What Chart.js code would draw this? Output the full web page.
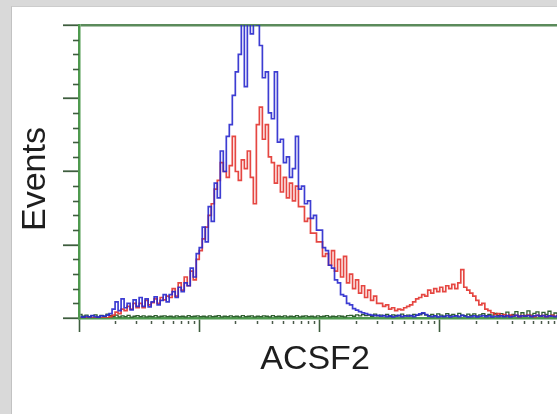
<!DOCTYPE html>
<html>
<head>
<meta charset="utf-8">
<script src="https://cdn.jsdelivr.net/npm/chart.js@4.4.1/dist/chart.umd.min.js"></script>
<style>
  html, body { margin: 0; padding: 0; width: 557px; height: 414px; overflow: hidden; background: #d9d9d9; }
  #panel { position: absolute; left: 11px; top: 6px; width: 560px; height: 420px; background: #ffffff; border-left: 1px solid #c2c2c2; border-top: 1px solid #cccccc; }
  #c { position: absolute; left: 0; top: 0; }
</style>
</head>
<body>
<div id="panel"></div>
<canvas id="c" width="575" height="414"></canvas>
<script>
// ---- data (events per channel, % of full scale) ----
const xTitle = "ACSF2";
const yTitle = "Events";
const yMajorTicks = [0, 25, 50, 75, 100];
const xDecadeTicks = [1, 10, 100, 1000, 10000];
const decadesShown = 4;

const blueCounts = [
  0.5,0.3,0.6,0.4,0.8,0.5,0.3,0.7,0.6,1.0,
  1.5,3,5.5,2.5,6.5,3.5,5,2.8,6.2,4,
  7,4,6.5,3.8,5.5,7.2,4.5,6,8,5.5,
  8,9,7,10.5,9,12,11,17,14,22,
  24,31,26,38,33,46,41,57,50,62,
  66,76,84,90,103,79,104,97,106,100,
  93,82,84,70,68,84,60,61,53,55,
  48,51,62,44,45,39,40,34,35,30,
  30,24,23,18,17,13,12,8,7.5,5,
  4.5,3.2,2.7,2.2,1.8,1.5,1.2,1.0,0.8,0.9,
  0.6,0.8,0.5,0.7,0.4,0.6,0.9,0.5,0.7,0.6,
  0.8,0.5,1.0,1.4,1.8,1.2,0.6,0.5,0.7,0.4,
  0.6,0.5,0.8,0.4,0.6,0.7,0.5,0.9,0.6,0.4,
  0.5,0.7,0.4,0.6,0.8,0.5,0.7,0.4,0.6,0.5,
  0.7,0.5,0.8,0.4,0.6,0.9,0.5,0.7,0.6,0.8,
  0.5,0.7,0.9,0.6,0.8,0.5,0.7,0.6,0.5,0.7
];
const redCounts = [
  0,0,0,0,0,0,0,0,0,0,
  0.5,1,2,1.5,3,2.5,4,3,5,3.5,
  5,3.5,6,4.5,5.2,6.5,5,7,6.2,7.5,
  7,10,7.5,12,9.5,14,11,16,13,20,
  23,27,31,35,39,44,47,53,50,48,
  52,62,50,47,54,51,57,48,39,66,
  72,61,66,55,53,46,52,43,48,41,
  46,40,45,38,38,33,34,29,29,26,
  26,21,22,18,23,16,20,14,21,12,
  15,10,13,8.5,11,7,9.5,6,7.5,5,
  5,4,4.5,3,3.5,2.5,3,2.8,3.5,4,
  4.5,5.5,6.5,7,8,7.5,9.5,8.5,10,9,
  10.5,9,11,10,11.5,10,12,16.5,10.5,9.5,
  8.5,7.5,6,4.5,5,3,2.5,1.8,1.2,1.5,
  0.8,1.2,0.6,1.0,0.7,0.9,0.5,0.8,0.6,1.0,
  0.7,0.5,0.9,0.6,0.8,0.5,0.7,0.9,0.6,0.8
];
const isoCounts = [
  1.2,0.6,1.0,0.5,0.8,1.1,0.4,0.9,0.6,1.3,
  0.8,0.5,1.0,0.4,0.7,0.5,0.9,0.3,0.6,0.8,
  0.5,0.7,0.4,0.6,0.5,0.8,0.4,0.6,0.7,0.5,
  0.6,0.4,0.7,0.5,0.6,0.4,0.8,0.5,0.6,0.7,
  0.5,0.6,0.4,0.7,0.5,0.6,0.8,0.4,0.6,0.5,
  0.7,0.5,0.6,0.4,0.8,0.5,0.6,0.7,0.4,0.6,
  0.5,0.7,0.6,0.4,0.8,0.5,0.6,0.5,0.7,0.4,
  0.6,0.5,0.8,0.4,0.6,0.7,0.5,0.6,0.4,0.7,
  0.5,0.6,0.8,0.4,0.6,0.5,0.7,0.6,0.4,0.8,
  0.9,0.6,1.1,0.7,1.2,0.8,1.0,0.6,1.3,0.7,
  1.0,0.8,1.2,0.6,1.1,0.9,0.7,1.3,0.8,1.0,
  0.7,1.2,0.9,1.1,1.6,1.0,0.8,1.2,0.7,1.4,
  1.0,0.6,1.5,0.9,1.2,0.7,1.6,1.0,0.8,1.3,
  0.9,1.4,0.7,1.1,1.5,0.8,1.2,1.0,1.6,0.9,
  1.5,0.6,2.0,0.8,1.2,2.2,0.7,1.8,0.9,2.4,
  1.0,1.6,2.1,0.8,1.9,1.2,2.3,1.0,1.7,1.4
];

// channel centres on the log axis (uniform log-spaced bins)
const binCount = blueCounts.length;
const channelValues = blueCounts.map((_, i) => Math.pow(10, (i + 0.5) * decadesShown / binCount));
const toPoints = arr => arr.map((v, i) => ({ x: channelValues[i], y: v }));

const axisGreen = '#4f9a4f';
const tickDark = '#3e5e3e';

const extras = {
  id: 'extras',
  afterDraw(chart) {
    const { ctx, chartArea } = chart;
    const xs = chart.scales.x, ys = chart.scales.y;
    ctx.save();
    // minor y ticks
    ctx.strokeStyle = tickDark; ctx.lineWidth = 1.6;
    for (let v = 5; v < 100; v += 5) {
      if (yMajorTicks.includes(v)) continue;
      const y = Math.round(ys.getPixelForValue(v)) + 0.5;
      ctx.beginPath(); ctx.moveTo(chartArea.left - 6, y); ctx.lineTo(chartArea.left, y); ctx.stroke();
    }
    // minor x ticks (log 2..9)
    ctx.strokeStyle = '#4a5a4a'; ctx.lineWidth = 1.5;
    for (let d = 0; d < decadesShown; d++) {
      for (let k = 2; k <= 9; k++) {
        const x = Math.round(xs.getPixelForValue(k * Math.pow(10, d))) + 0.5;
        ctx.beginPath(); ctx.moveTo(x, chartArea.bottom + 3); ctx.lineTo(x, chartArea.bottom + 6); ctx.stroke();
      }
    }
    // titles
    ctx.fillStyle = '#1e1e1e';
    ctx.font = '34px "Liberation Sans", Arial, sans-serif';
    ctx.textAlign = 'center'; ctx.textBaseline = 'middle';
    ctx.fillText(xTitle, 315, 360);
    ctx.translate(36, 179); ctx.rotate(-Math.PI / 2);
    ctx.fillText(yTitle, 0, 0);
    ctx.restore();
  }
};

new Chart(document.getElementById('c'), {
  type: 'line',
  data: {
    datasets: [
      { label: 'blue', data: toPoints(blueCounts), borderColor: 'rgba(40,40,205,0.9)', borderWidth: 1.7, stepped: 'middle', pointRadius: 0, order: 1 },
      { label: 'red', data: toPoints(redCounts), borderColor: 'rgba(225,45,40,0.88)', borderWidth: 1.7, stepped: 'middle', pointRadius: 0, order: 2 },
      { label: 'iso', data: toPoints(isoCounts), borderColor: '#2f5f2f', borderWidth: 1.3, stepped: 'middle', pointRadius: 0, order: 3 }
    ]
  },
  options: {
    responsive: false,
    animation: false,
    devicePixelRatio: 1,
    layout: { padding: { left: 0, top: 25, right: 15, bottom: 0 } },
    plugins: { legend: { display: false }, tooltip: { enabled: false } },
    scales: {
      x: {
        type: 'logarithmic', min: 1, max: 10000,
        afterBuildTicks: s => { s.ticks = xDecadeTicks.map(v => ({ value: v, major: true })); },
        afterFit: s => { s.height = 96; },
        ticks: { display: false },
        grid: { drawOnChartArea: false, drawTicks: true, tickLength: 14, tickColor: tickDark, tickWidth: 1.6 },
        border: { display: true, color: axisGreen, width: 2.5 }
      },
      y: {
        type: 'linear', min: 0, max: 100,
        afterBuildTicks: s => { s.ticks = yMajorTicks.map(v => ({ value: v })); },
        afterFit: s => { s.width = 79; },
        ticks: { display: false },
        grid: {
          drawOnChartArea: true, drawTicks: true, tickLength: 16,
          color: c => (c.tick && c.tick.value === 100) ? '#5b8b5b' : 'rgba(0,0,0,0)',
          lineWidth: 2.5, tickColor: tickDark, tickWidth: 1.8
        },
        border: { display: true, color: axisGreen, width: 2.5 }
      }
    }
  },
  plugins: [extras]
});
</script>
</body>
</html>
